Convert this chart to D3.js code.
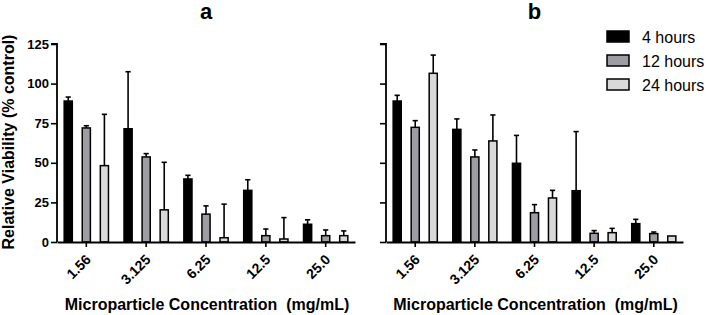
<!DOCTYPE html>
<html><head><meta charset="utf-8">
<script src="https://cdn.jsdelivr.net/npm/d3@7"></script>
<style>body{margin:0;background:#fff}svg{display:block}</style>
</head><body>
<svg id="chart" width="709" height="315"></svg>
<script>
const categories = ["1.56","3.125","6.25","12.5","25.0"];
const seriesNames = ["4 hours","12 hours","24 hours"];
const seriesColors = ["#000000","#9d9da3","#d9d9d9"];
const yTicks = [0,25,50,75,100,125];
// panel a: means and upper error ends
const aMean4 = [89, 71.5, 39.8, 32.6, 11.2];
const aErr4  = [91.5, 107.5, 42.1, 39.3, 14];
const aMean12 = [72, 53.7, 17.6, 4.0, 4.0];
const aErr12  = [73.4, 55.8, 22.8, 8.2, 7.6];
const aMean24 = [48.2, 20.3, 2.7, 1.9, 4.0];
const aErr24  = [80.6, 50.3, 23.9, 15.4, 7.0];
// panel b
const bMean4 = [89, 71.1, 49.7, 32.4, 11.6];
const bErr4  = [92.6, 77.7, 67.3, 69.7, 14.3];
const bMean12 = [72.4, 53.7, 18.5, 5.5, 5.3];
const bErr12  = [76.6, 58.1, 23.6, 7.2, 6.3];
const bMean24 = [106.5, 63.8, 27.8, 5.9, 3.8];
const bErr24  = [118, 80.2, 32.6, 8.6, 3.8];

const svg = d3.select("#chart");
const font = "'Liberation Sans', Arial, sans-serif";

function panel(x0, x1, title, means, errs, showLabels) {
  const y = d3.scaleLinear().domain([0,125]).range([242,44]);
  const x = d3.scaleBand().domain(categories).range([x0, x1]).paddingInner(0.26).paddingOuter(0.12);
  const xs = d3.scaleBand().domain([0,1,2]).range([0, x.bandwidth()]).paddingInner(0.55);
  const g = svg.append("g");
  categories.forEach((c, ci) => {
    for (let s = 0; s < 3; s++) {
      const bx = x(c) + xs(s), bw = xs.bandwidth();
      const cx = bx + bw/2;
      if (errs[s][ci] > means[s][ci] + 0.3) {
        g.append("line").attr("x1", cx).attr("x2", cx)
          .attr("y1", y(means[s][ci])).attr("y2", y(errs[s][ci]))
          .attr("stroke", "#000").attr("stroke-width", 1.6);
        g.append("line").attr("x1", cx - bw*0.32).attr("x2", cx + bw*0.32)
          .attr("y1", y(errs[s][ci])).attr("y2", y(errs[s][ci]))
          .attr("stroke", "#000").attr("stroke-width", 1.6);
      }
      g.append("rect").attr("x", bx).attr("width", bw)
        .attr("y", y(means[s][ci])).attr("height", y(0) - y(means[s][ci]))
        .attr("fill", seriesColors[s]).attr("stroke", "#000").attr("stroke-width", 1.5);
    }
  });
  // y axis
  const ya = g.append("g").attr("transform", `translate(${x0},0)`)
    .call(d3.axisLeft(y).tickValues(yTicks).tickSize(6).tickPadding(2)
      .tickFormat(showLabels ? d3.format("d") : ""));
  ya.select(".domain").attr("stroke-width", 1.8).attr("d", `M-6,${y(125)}H0V${y(0)}`);
  ya.selectAll(".tick line").attr("stroke-width", 1.6);
  ya.selectAll("text").attr("font-family", font).attr("font-weight", "bold").attr("font-size", 13).attr("fill", "#000");
  // x axis
  const xa = g.append("g").attr("transform", `translate(0,${y(0)})`)
    .call(d3.axisBottom(x).tickSize(5).tickSizeOuter(0));
  xa.select(".domain").attr("stroke-width", 1.8);
  xa.selectAll(".tick line").attr("stroke-width", 1.6);
  xa.selectAll("text").attr("font-family", font).attr("font-weight", "bold").attr("font-size", 14)
    .attr("fill", "#000").attr("text-anchor", "end")
    .attr("transform", "translate(2,15) rotate(-45)").attr("dy", "0.35em").attr("y", 0).attr("x", 0);
  // title
  g.append("text").attr("x", (x0+x1)/2).attr("y", 19).attr("text-anchor", "middle")
    .attr("font-family", font).attr("font-weight", "bold").attr("font-size", 22).text(title);
  // x label
  g.append("text").attr("x", (x0+x1)/2 + 1).attr("y", 310).attr("text-anchor", "middle")
    .attr("font-family", font).attr("font-weight", "bold").attr("font-size", 16)
    .style("white-space", "pre")
    .text("Microparticle Concentration  (mg/mL)");
}

panel(57, 355, "a", [aMean4, aMean12, aMean24], [aErr4, aErr12, aErr24], true);
panel(386, 683, "b", [bMean4, bMean12, bMean24], [bErr4, bErr12, bErr24], false);

// y label
svg.append("text").attr("transform", "translate(14,142) rotate(-90)").attr("text-anchor", "middle")
  .attr("font-family", font).attr("font-weight", "bold").attr("font-size", 16)
  .text("Relative Viability (% control)");

// legend
const leg = svg.append("g");
seriesNames.forEach((n, i) => {
  leg.append("rect").attr("x", 607).attr("y", 31 + i*24).attr("width", 22).attr("height", 11)
    .attr("fill", seriesColors[i]).attr("stroke", "#000").attr("stroke-width", 1.5);
  leg.append("text").attr("x", 642).attr("y", 43 + i*24)
    .attr("font-family", font).attr("font-size", 16).text(n);
});
</script>
</body></html>
